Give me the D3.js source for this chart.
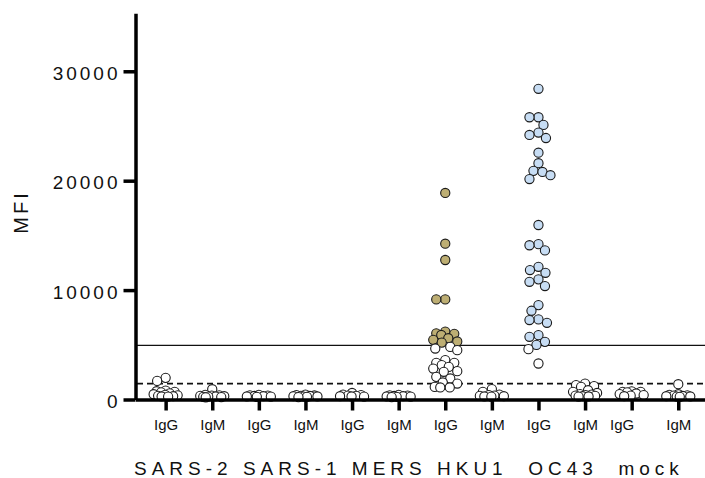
<!DOCTYPE html>
<html>
<head>
<meta charset="utf-8">
<script src="https://cdn.jsdelivr.net/npm/d3@7"></script>
<style>
  body { margin: 0; background: #fff; }
  svg { display: block; font-family: "Liberation Sans", Arial, Helvetica, sans-serif; }
</style>
</head>
<body>
<div class="canvas"></div>
<script>
const antigens = ['SARS-2', 'SARS-1', 'MERS', 'HKU1', 'OC43', 'mock'];
const isotypes = ['IgG', 'IgM'];
const yTicks = [0, 10000, 20000, 30000];
const cutoffSolid = 4950;
const cutoffDashed = 1450;

// MFI values per antigen / isotype
const sars2IgG = [1980, 1700, 820, 760, 700, 650, 560, 480, 420, 380, 340, 300, 280, 260];
const sars2IgM = [940, 420, 380, 350, 330, 300, 280, 260, 240, 220, 200];
const sars1IgG = [420, 380, 350, 320, 300, 280, 260, 240];
const sars1IgM = [450, 400, 370, 340, 320, 300, 280, 260, 240, 220];
const mersIgG = [600, 450, 400, 360, 330, 300, 280, 260];
const mersIgM = [420, 380, 350, 320, 300, 280, 260, 240, 220];
const hku1IgG = [18880, 14240, 12750, 9150, 9150, 6200, 6050, 6000, 5900, 5600, 5450, 5300, 5200,
                 4810, 4660, 4510, 3600, 3350, 3350, 3140, 2980, 2830, 2590, 2530, 2070, 1920,
                 1560, 1460, 1150, 1100, 1100];
const hku1IgM = [950, 700, 450, 400, 360, 330, 300, 280, 260];
const oc43IgG = [28400, 25800, 25800, 25100, 24400, 24180, 23900, 22560, 21600, 20900, 20800, 20500,
                 20150, 15950, 14200, 14100, 13630, 12130, 11830, 11580, 10980, 10760, 10370, 8630,
                 8110, 7320, 7260, 7010, 5880, 5730, 5270, 4990, 4600, 3290];
const oc43IgM = [1460, 1310, 1220, 1150, 850, 700, 600, 500, 450, 400, 360, 330, 300, 280, 260];
const mockIgG = [750, 700, 700, 650, 550, 500, 400, 350, 300];
const mockIgM = [1400, 480, 420, 380, 350, 320, 300, 280, 260, 240];

const valueSets = [
    [sars2IgG, sars2IgM], [sars1IgG, sars1IgM], [mersIgG, mersIgM],
    [hku1IgG, hku1IgM], [oc43IgG, oc43IgM], [mockIgG, mockIgM]
];

// fill for points above the solid cutoff
const posColor = { 'HKU1 IgG': '#bdae73', 'OC43 IgG': '#c7ddf4' };

const groups = antigens.flatMap((a, i) => isotypes.map((iso, j) => ({
    key: `${a} ${iso}`, antigen: a, iso, values: valueSets[i][j]
})));

const dims = { width: 705, height: 478 };
const r = 4.6;

const svg = d3.select('.canvas')
    .append('svg')
    .attr('width', dims.width)
    .attr('height', dims.height);

const x = d3.scalePoint()
    .domain(groups.map(d => d.key))
    .range([135.5, dims.width])
    .padding(0.61)
    .align(0.53);

const y = d3.scaleLinear()
    .domain([0, 35300])
    .range([399.5, 13.3]);

// cutoff lines
svg.append('line')
    .attr('x1', 137).attr('x2', dims.width)
    .attr('y1', y(cutoffSolid)).attr('y2', y(cutoffSolid))
    .attr('stroke', '#111').attr('stroke-width', 1.4);

svg.append('line')
    .attr('x1', 137).attr('x2', dims.width)
    .attr('y1', y(cutoffDashed)).attr('y2', y(cutoffDashed))
    .attr('stroke', '#111').attr('stroke-width', 1.6)
    .attr('stroke-dasharray', '6,4');

// simple beeswarm: nearest free slot to the centre, else least crowded slot
const spread = 12, diam = 9, step = 0.5;
const swarm = (values, cx) => {
    const placed = [];
    values.slice().sort((a, b) => b - a).forEach(v => {
        const cy = y(v);
        let best = 0, bestGap = -1;
        for (let k = 0; k <= 2 * spread / step; k++) {
            const off = (k % 2 ? -1 : 1) * Math.ceil(k / 2) * step;
            const gap = placed.length
                ? d3.min(placed, p => Math.hypot(p.dx - off, p.cy - cy))
                : Infinity;
            if (gap >= diam) { best = off; break; }
            if (gap > bestGap) { bestGap = gap; best = off; }
        }
        placed.push({ v, cy, dx: best, cx });
    });
    return placed;
};

groups.forEach(g => {
    const pts = swarm(g.values, x(g.key));
    svg.append('g')
        .selectAll('circle')
        .data(pts)
        .enter()
        .append('circle')
        .attr('cx', d => d.cx + d.dx)
        .attr('cy', d => d.cy)
        .attr('r', r)
        .attr('fill', d => (d.v > cutoffSolid && posColor[g.key]) ? posColor[g.key] : '#fff')
        .attr('stroke', '#1a1a1a')
        .attr('stroke-width', 1.1);
});

// axes
const yAxis = d3.axisLeft(y)
    .tickValues(yTicks)
    .tickFormat(d3.format('d'))
    .tickSize(12)
    .tickSizeOuter(0)
    .tickPadding(3);

const yG = svg.append('g')
    .attr('transform', 'translate(135.5,0)')
    .call(yAxis);

yG.select('.domain').attr('stroke', '#000').attr('stroke-width', 3.5);
yG.selectAll('.tick line').attr('stroke', '#000').attr('stroke-width', 3.5);
yG.selectAll('.tick text')
    .attr('fill', '#111')
    .attr('font-size', 19)
    .attr('letter-spacing', 3)
    .attr('dy', '0.42em');

const xAxis = d3.axisBottom(x)
    .tickSize(11)
    .tickSizeOuter(0)
    .tickFormat(d => d.split(' ')[1])
    .tickPadding(9);

const xG = svg.append('g')
    .attr('transform', `translate(0,${y(0)})`)
    .call(xAxis);

xG.select('.domain').attr('stroke', '#000').attr('stroke-width', 3.5);
xG.selectAll('.tick line').attr('stroke', '#000').attr('stroke-width', 3.5);
xG.selectAll('.tick text')
    .attr('fill', '#111')
    .attr('font-size', 15)
    .attr('dx', (d, i) => i === 10 ? -10 : 0);

// antigen labels: one spaced line, as in the original figure
const gaps = [' ', ' ', ' ', '  ', '  '];
const antigenLine = antigens.reduce((s, a, i) => i ? s + gaps[i - 1] + a : a, '');

svg.append('text')
    .attr('x', 134)
    .attr('y', 475)
    .attr('xml:space', 'preserve')
    .style('white-space', 'pre')
    .attr('font-size', 19)
    .attr('letter-spacing', 5)
    .attr('fill', '#111')
    .text(antigenLine);

// y label
svg.append('text')
    .attr('transform', 'translate(28,212) rotate(-90)')
    .attr('text-anchor', 'middle')
    .attr('font-size', 20)
    .attr('letter-spacing', 3)
    .attr('fill', '#111')
    .text('MFI');
</script>
</body>
</html>
